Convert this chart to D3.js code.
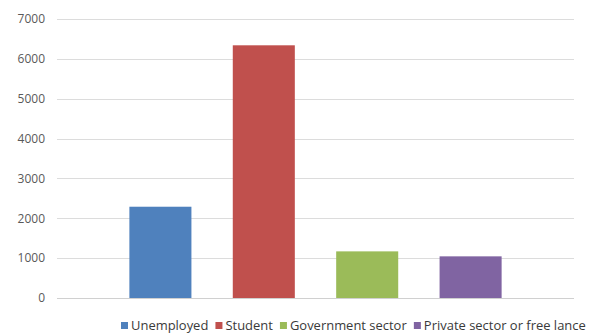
<!DOCTYPE html>
<html>
<head>
<meta charset="utf-8">
<script src="https://d3js.org/d3.v7.min.js"></script>
<style>
  html, body { margin: 0; padding: 0; background: #fff; }
  svg { display: block; }
</style>
</head>
<body>
<svg id="chart" width="592" height="333"></svg>
<script>
// Occupation counts
const categories = ["Unemployed", "Student", "Government sector", "Private sector or free lance"];
const values = [2290, 6340, 1170, 1045];
const colors = ["#4f81bd", "#c0504d", "#9bbb59", "#8064a2"];
const yTicks = [0, 1000, 2000, 3000, 4000, 5000, 6000, 7000];

const svg = d3.select("#chart");
const fontFamily = "'Open Sans', 'Noto Sans', sans-serif";

const plot = { left: 57, right: 574, top: 19, bottom: 298 };

const x = d3.scalePoint()
  .domain(categories)
  .range([plot.left, plot.right])
  .padding(1);

const y = d3.scaleLinear()
  .domain([0, 7000])
  .range([plot.bottom, plot.top]);

const barWidth = x.step() * 0.6;

// Horizontal gridlines
svg.append("g")
  .selectAll("line")
  .data(yTicks)
  .join("line")
  .attr("x1", plot.left)
  .attr("x2", plot.right)
  .attr("y1", d => Math.round(y(d)) + 0.5)
  .attr("y2", d => Math.round(y(d)) + 0.5)
  .attr("stroke", d => d === 0 ? "#d0d0d0" : "#dcdcdc")
  .attr("stroke-width", 1);

// Y axis labels
const yAxis = d3.axisLeft(y).tickValues(yTicks).tickSize(0).tickPadding(0).tickFormat(d3.format("d"));
const yg = svg.append("g")
  .attr("transform", `translate(${45},0)`)
  .call(yAxis);
yg.select(".domain").remove();
yg.selectAll("text")
  .attr("fill", "#595959")
  .attr("font-family", fontFamily)
  .attr("font-size", 12);

// Bars
svg.append("g")
  .selectAll("rect")
  .data(categories)
  .join("rect")
  .attr("x", d => x(d) - barWidth / 2)
  .attr("y", (d, i) => y(values[i]))
  .attr("width", barWidth)
  .attr("height", (d, i) => y(0) - y(values[i]))
  .attr("fill", (d, i) => colors[i]);

// Legend: one row, squeezed horizontally to span its allotted width
const legendStart = 121, legendEnd = 586, itemGap = 7, swatch = 7, labelOffset = 10;
const legend = svg.append("g");
const items = legend.selectAll("g")
  .data(categories)
  .join("g");
const swatches = items.append("rect")
  .attr("height", swatch)
  .attr("y", -8)
  .attr("fill", (d, i) => colors[i]);
const labels = items.append("text")
  .attr("fill", "#3a3a3a")
  .attr("font-family", fontFamily)
  .attr("font-size", 13.5)
  .text(d => d);

const widths = [];
labels.each(function () { widths.push(this.getComputedTextLength()); });
const textTotal = d3.sum(widths);
const fixedTotal = labelOffset * 4 + itemGap * 3;
const sx = (legendEnd - legendStart - fixedTotal) / textTotal;

let pos = 0;
items.each(function (d, i) {
  const g = d3.select(this).attr("transform", `translate(${pos},0)`);
  g.select("text").attr("transform", `translate(${labelOffset},0) scale(${sx},1)`);
  pos += labelOffset + widths[i] * sx + itemGap;
});
swatches.attr("width", swatch);
legend.attr("transform", `translate(${legendStart},330)`);
</script>
</body>
</html>
